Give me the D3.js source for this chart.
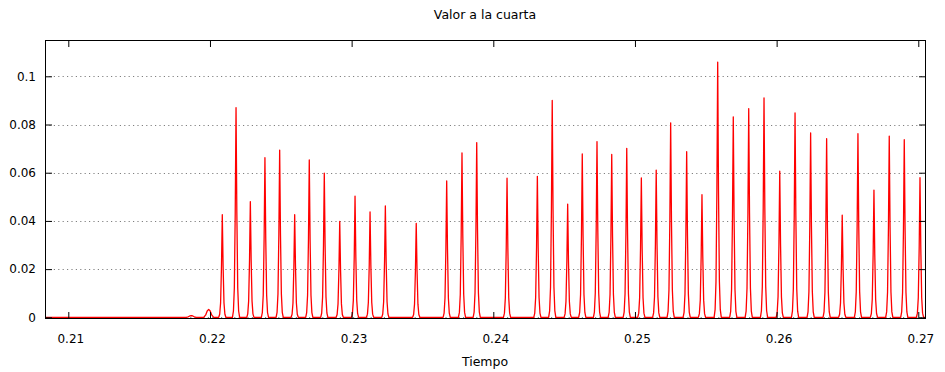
<!DOCTYPE html>
<html>
<head>
<meta charset="utf-8">
<script src="https://cdn.jsdelivr.net/npm/d3@7/dist/d3.min.js"></script>
<style>
  html, body { margin: 0; padding: 0; background: #fff; }
  svg { display: block; font-family: "DejaVu Sans", sans-serif; }
</style>
</head>
<body>
<svg id="chart" width="945" height="372"></svg>
<script>
// ---- data ----
const title = "Valor a la cuarta";
const xLabel = "Tiempo";
const xTicks = [0.21, 0.22, 0.23, 0.24, 0.25, 0.26, 0.27];
const yTicks = [0, 0.02, 0.04, 0.06, 0.08, 0.1];
const xDomain = [0.208355, 0.270544];
const yDomain = [-0.0007, 0.11506];
// peak times
const peakTimes = [
  0.21868, 0.21991, 0.22087, 0.22184, 0.22285, 0.22388, 0.22492, 0.22598,
  0.22701, 0.22807, 0.22916, 0.23024, 0.23130, 0.23238, 0.23456, 0.23671,
  0.23779, 0.23883, 0.24097, 0.24311, 0.24416, 0.24525, 0.24628, 0.24732,
  0.24836, 0.24942, 0.25045, 0.25150, 0.25252, 0.25365, 0.25473, 0.25584,
  0.25694, 0.25803, 0.25911, 0.26022, 0.26130, 0.26240, 0.26353, 0.26463,
  0.26574, 0.26687, 0.26795, 0.26901, 0.27012
];
// peak heights
const peakValues = [
  0.0007, 0.0033, 0.0426, 0.0870, 0.0480, 0.0662, 0.0694, 0.0426,
  0.0653, 0.0598, 0.0398, 0.0503, 0.0437, 0.0462, 0.0390, 0.0566,
  0.0682, 0.0725, 0.0577, 0.0585, 0.0900, 0.0470, 0.0678, 0.0729,
  0.0676, 0.0701, 0.0578, 0.0611, 0.0807, 0.0687, 0.0509, 0.1059,
  0.0832, 0.0866, 0.0910, 0.0606, 0.0848, 0.0765, 0.0741, 0.0424,
  0.0762, 0.0528, 0.0752, 0.0737, 0.0579
];

// ---- layout ----
const margin = { left: 45, top: 40, right: 945 - 926, bottom: 372 - 319 };
const W = 945, H = 372;
const iw = W - margin.left - margin.right;
const ih = H - margin.top - margin.bottom;

const svg = d3.select("#chart");
const x = d3.scaleLinear().domain(xDomain).range([margin.left, margin.left + iw]);
const y = d3.scaleLinear().domain(yDomain).range([margin.top + ih, margin.top]);

// spike shape (offsets in time units, relative height)
const step = 0.0000706;
const profile = [
  [-3.6, 0], [-2.6, 0.03], [-1.7, 0.14], [-0.8, 0.5], [0, 1],
  [0.8, 0.5], [1.7, 0.14], [2.6, 0.03], [3.6, 0]
];
const wideProfile = [
  [-5, 0], [-3, 0.3], [-1.5, 0.8], [0, 1], [1.5, 0.8], [3, 0.3], [5, 0]
];
const pts = [[xDomain[0], 0]];
peakTimes.forEach((t, i) => {
  const h = peakValues[i];
  const prof = h < 0.005 ? wideProfile : profile;
  prof.forEach(([o, f]) => pts.push([t + o * step, h * f]));
});
pts.push([xDomain[1], 0]);

// grid
svg.append("g").selectAll("line").data(yTicks).join("line")
  .attr("x1", margin.left).attr("x2", margin.left + iw)
  .attr("y1", d => Math.round(y(d)) + 0.5).attr("y2", d => Math.round(y(d)) + 0.5)
  .attr("stroke", "#808080").attr("stroke-width", 1)
  .attr("stroke-dasharray", "1.2,3.2");

// clip
svg.append("clipPath").attr("id", "clip").append("rect")
  .attr("x", margin.left).attr("y", margin.top).attr("width", iw).attr("height", ih);

// line
svg.append("path")
  .datum(pts)
  .attr("clip-path", "url(#clip)")
  .attr("fill", "none")
  .attr("stroke", "#ff0000")
  .attr("stroke-width", 1.3)
  .attr("stroke-linejoin", "round")
  .attr("d", d3.line().x(d => x(d[0])).y(d => y(d[1])));

// axes with inward ticks, mirrored
const tickLen = 7;
const fmt = d => d3.format("~g")(d);

const gBottom = svg.append("g").attr("transform", `translate(0,${margin.top + ih})`)
  .call(d3.axisBottom(x).tickValues(xTicks).tickSize(-tickLen).tickPadding(15).tickFormat(fmt));
const gTop = svg.append("g").attr("transform", `translate(0,${margin.top})`)
  .call(d3.axisTop(x).tickValues(xTicks).tickSize(-tickLen).tickFormat(""));
const gLeft = svg.append("g").attr("transform", `translate(${margin.left},0)`)
  .call(d3.axisLeft(y).tickValues(yTicks).tickSize(-tickLen).tickPadding(9).tickFormat(fmt));
const gRight = svg.append("g").attr("transform", `translate(${margin.left + iw},0)`)
  .call(d3.axisRight(y).tickValues(yTicks).tickSize(-tickLen).tickFormat(""));

[gBottom, gTop, gLeft, gRight].forEach(g => {
  g.select(".domain").remove();
  g.selectAll(".tick line").attr("stroke", "#000").attr("stroke-width", 1);
  g.selectAll(".tick text").attr("fill", "#000").style("font-size", "12px")
    .style("font-family", "'DejaVu Sans', sans-serif");
});
gBottom.selectAll(".tick text").attr("dx", "2");

// frame
svg.append("rect")
  .attr("x", margin.left + 0.5).attr("y", margin.top + 0.5)
  .attr("width", iw - 1).attr("height", ih - 1)
  .attr("fill", "none").attr("stroke", "#000").attr("stroke-width", 1);

// title and label
svg.append("text").attr("x", 485).attr("y", 19).attr("text-anchor", "middle")
  .style("font-size", "12.5px").attr("fill", "#000").text(title);
svg.append("text").attr("x", 485).attr("y", 366).attr("text-anchor", "middle")
  .style("font-size", "12.5px").attr("fill", "#000").text(xLabel);
</script>
</body>
</html>
